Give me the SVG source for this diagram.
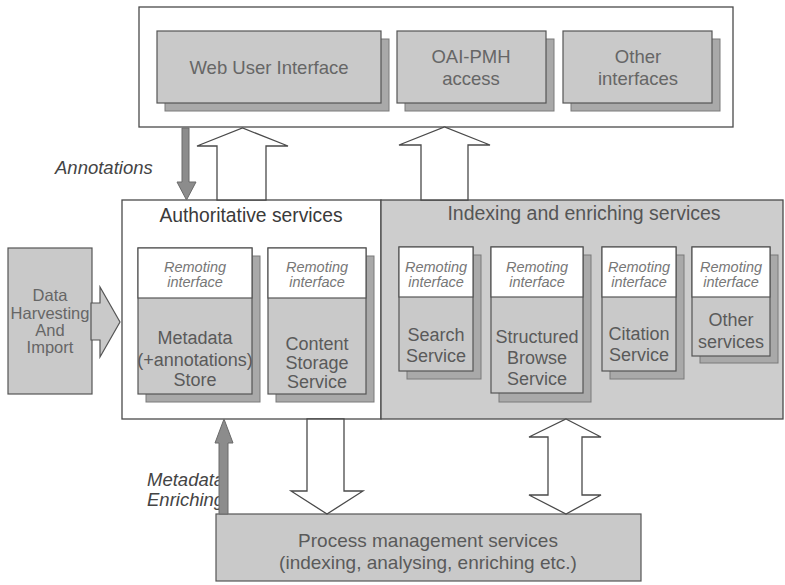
<svg xmlns="http://www.w3.org/2000/svg" width="785" height="585" viewBox="0 0 785 585">
  <style>
    text { font-family: "Liberation Sans", Arial, sans-serif; }
    .frame { fill: #ffffff; stroke: #4a4a4a; stroke-width: 1.3; }
    .zone { fill: #cdcdcd; stroke: #4a4a4a; stroke-width: 1.3; }
    .box { fill: #c9c9c9; stroke: #555555; stroke-width: 1.2; }
    .shadow { fill: #a9a9a9; stroke: #7a7a7a; stroke-width: 1; }
    .iface { fill: #ffffff; stroke: #555555; stroke-width: 1.2; }
    .hollow { fill: #ffffff; stroke: #4a4a4a; stroke-width: 1.3; stroke-linejoin: miter; }
    .solid { fill: #8c8c8c; stroke: #6a6a6a; stroke-width: 1; }
    .head { font-size: 19.3px; fill: #3a3a3a; text-anchor: middle; }
    .head-g { font-size: 19.5px; fill: #555555; text-anchor: middle; }
    .big { font-size: 18.5px; fill: #666666; text-anchor: middle; }
    .body { font-size: 18px; fill: #5a5a5a; text-anchor: middle; }
    .rem { font-size: 14.5px; font-style: italic; fill: #777777; text-anchor: middle; }
    .dh { font-size: 16.5px; fill: #666666; text-anchor: middle; }
    .lbl { font-size: 18.5px; font-style: italic; fill: #444444; }
    .proc { font-size: 19px; fill: #5a5a5a; text-anchor: middle; }
  </style>

  <!-- Access layer -->
  <g id="access-layer">
    <rect class="frame" x="139" y="7" width="594" height="120"/>
  </g>
  <g id="web-ui">
    <rect class="shadow" x="165" y="39" width="224" height="72"/>
    <rect class="box" x="157" y="31" width="224" height="72"/>
    <text class="big" x="269" y="74">Web User Interface</text>
  </g>
  <g id="oai-pmh">
    <rect class="shadow" x="405" y="39" width="149" height="72"/>
    <rect class="box" x="397" y="31" width="149" height="72"/>
    <text class="big" x="471" y="63">OAI-PMH</text>
    <text class="big" x="471" y="85">access</text>
  </g>
  <g id="other-interfaces">
    <rect class="shadow" x="571" y="39" width="149" height="72"/>
    <rect class="box" x="563" y="31" width="149" height="72"/>
    <text class="big" x="638" y="63">Other</text>
    <text class="big" x="638" y="85">interfaces</text>
  </g>

  <!-- Service layer -->
  <g id="authoritative-services">
    <rect class="frame" x="122" y="200" width="259" height="219"/>
    <text class="head" x="251" y="222">Authoritative services</text>
  </g>
  <g id="indexing-services">
    <rect class="zone" x="381" y="200" width="402" height="219"/>
    <text class="head-g" x="584" y="220">Indexing and enriching services</text>
  </g>

  <g id="metadata-store">
    <rect class="shadow" x="146" y="256" width="114" height="146"/>
    <rect class="box" x="138" y="248" width="114" height="146"/>
    <rect class="iface" x="138" y="248" width="114" height="50"/>
    <text class="rem" x="195" y="272">Remoting</text>
    <text class="rem" x="195" y="287">interface</text>
    <text class="body" x="195" y="344">Metadata</text>
    <text class="body" x="195" y="366">(+annotations)</text>
    <text class="body" x="195" y="386">Store</text>
  </g>
  <g id="content-storage">
    <rect class="shadow" x="276" y="256" width="98" height="146"/>
    <rect class="box" x="268" y="248" width="98" height="146"/>
    <rect class="iface" x="268" y="248" width="98" height="50"/>
    <text class="rem" x="317" y="272">Remoting</text>
    <text class="rem" x="317" y="287">interface</text>
    <text class="body" x="317" y="350">Content</text>
    <text class="body" x="317" y="369">Storage</text>
    <text class="body" x="317" y="388">Service</text>
  </g>

  <g id="search-service">
    <rect class="shadow" x="407" y="255" width="74" height="124"/>
    <rect class="box" x="399" y="247" width="74" height="124"/>
    <rect class="iface" x="399" y="247" width="74" height="50"/>
    <text class="rem" x="436" y="272">Remoting</text>
    <text class="rem" x="436" y="287">interface</text>
    <text class="body" x="436" y="341">Search</text>
    <text class="body" x="436" y="362">Service</text>
  </g>
  <g id="structured-browse">
    <rect class="shadow" x="499" y="255" width="92" height="147"/>
    <rect class="box" x="491" y="247" width="92" height="146"/>
    <rect class="iface" x="491" y="247" width="92" height="50"/>
    <text class="rem" x="537" y="272">Remoting</text>
    <text class="rem" x="537" y="287">interface</text>
    <text class="body" x="537" y="343">Structured</text>
    <text class="body" x="537" y="364">Browse</text>
    <text class="body" x="537" y="385">Service</text>
  </g>
  <g id="citation-service">
    <rect class="shadow" x="610" y="255" width="74" height="124"/>
    <rect class="box" x="602" y="247" width="74" height="124"/>
    <rect class="iface" x="602" y="247" width="74" height="50"/>
    <text class="rem" x="639" y="272">Remoting</text>
    <text class="rem" x="639" y="287">interface</text>
    <text class="body" x="639" y="340">Citation</text>
    <text class="body" x="639" y="361">Service</text>
  </g>
  <g id="other-services">
    <rect class="shadow" x="700" y="255" width="78" height="108"/>
    <rect class="box" x="692" y="247" width="78" height="109"/>
    <rect class="iface" x="692" y="247" width="78" height="50"/>
    <text class="rem" x="731" y="272">Remoting</text>
    <text class="rem" x="731" y="287">interface</text>
    <text class="body" x="731" y="326">Other</text>
    <text class="body" x="731" y="348">services</text>
  </g>

  <!-- Harvesting source -->
  <g id="data-harvesting">
    <rect class="box" x="8" y="248" width="84" height="146"/>
    <text class="dh" x="50" y="301">Data</text>
    <text class="dh" x="50" y="319">Harvesting</text>
    <text class="dh" x="50" y="336">And</text>
    <text class="dh" x="50" y="353">Import</text>
  </g>

  <!-- Process management -->
  <g id="process-management">
    <rect class="box" x="216" y="514" width="425" height="67"/>
    <text class="proc" x="428" y="547">Process management services</text>
    <text class="proc" x="428" y="569">(indexing, analysing, enriching etc.)</text>
  </g>

  <!-- Flow labels -->
  <g id="labels">
    <text class="lbl" x="55" y="174">Annotations</text>
    <text class="lbl" x="147" y="486">Metadata</text>
    <text class="lbl" x="147" y="506">Enriching</text>
  </g>

  <!-- Connectors -->
  <g id="connectors">
    <!-- harvesting into the authoritative store -->
    <polygon class="box" points="91,303 100,303 100,287 120,322 100,357 100,340 91,340"/>
    <!-- services up to the access layer -->
    <polygon class="hollow" points="217,200 217,146 197,146 242.5,128 288,146 266,146 266,200"/>
    <polygon class="hollow" points="421,200 421,145 399,145 444.5,127 490,145 468,145 468,200"/>
    <!-- authoritative services down to process management -->
    <polygon class="hollow" points="307,419 307,491 291,491 327,514 363,491 344,491 344,419"/>
    <!-- indexing services to and from process management -->
    <polygon class="hollow" points="566,419 601,437 582,437 582,495 601,495 566,514 529,495 548,495 548,437 529,437"/>
    <!-- annotations from the web interface -->
    <polygon class="solid" points="182,128 189,128 189,182 196,182 186.5,200 177,182 182,182"/>
    <!-- metadata enriching back into the store -->
    <polygon class="solid" points="219,514 228,514 228,443 233,443 224,419 215,443 219,443"/>
  </g>
</svg>
